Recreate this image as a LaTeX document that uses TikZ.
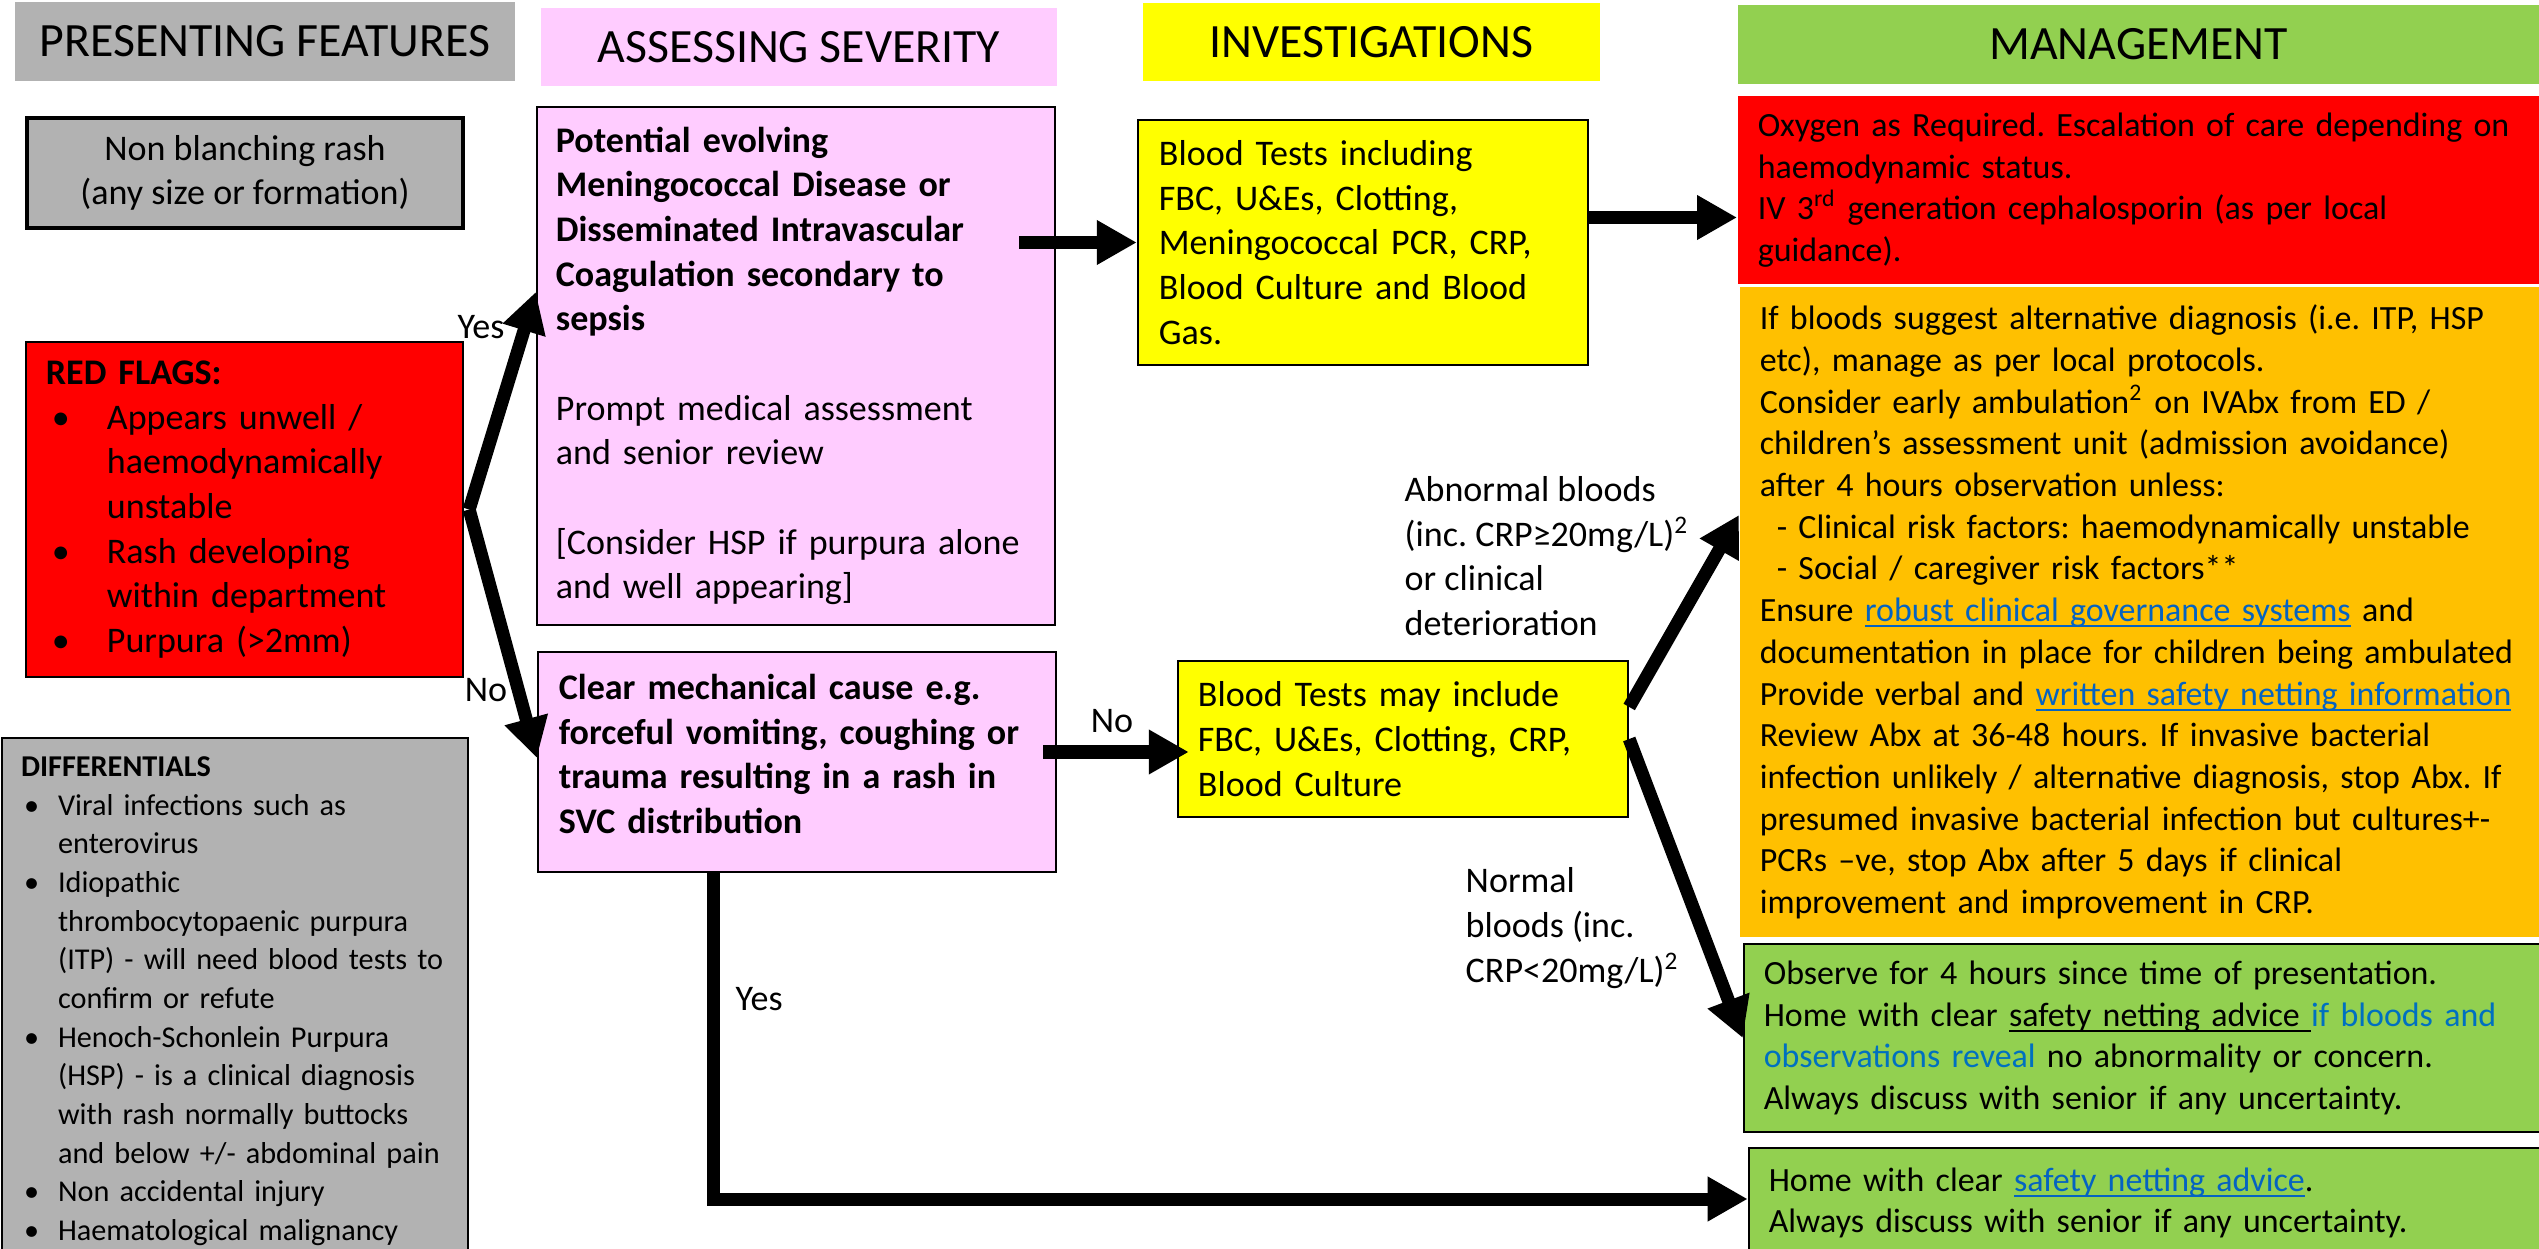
\documentclass[tikz,border=0pt]{standalone}
\usepackage{fontspec}
\setmainfont{Carlito}
\usetikzlibrary{arrows.meta,calc}

\definecolor{hgray}{HTML}{B2B2B2}
\definecolor{pinkbox}{HTML}{FFCCFF}
\definecolor{yelbox}{HTML}{FFFF00}
\definecolor{grnbox}{HTML}{92D050}
\definecolor{orgbox}{HTML}{FFC000}
\definecolor{redbox}{HTML}{FF0000}
\definecolor{linkblue}{HTML}{0563C1}
\definecolor{noteblue}{HTML}{0070C0}

\newcommand{\uln}[1]{\setbox0\hbox{#1}\rlap{\rule[-0.17em]{\wd0}{0.06em}}\box0}
\newcommand{\lnk}[1]{\textcolor{linkblue}{\uln{#1}}}
\newcommand{\rfb}{\hspace*{0.06cm}\makebox[0.55cm][l]{\textbullet}}
\newcommand{\rfi}{\hspace*{0.61cm}}
\newcommand{\dfb}{\hspace*{0.03cm}\makebox[0.34cm][l]{\textbullet}}
\newcommand{\dfi}{\hspace*{0.37cm}}
\frenchspacing

\begin{document}
\begin{tikzpicture}[x=0.01cm, y=-0.01cm,
    hdr/.style={minimum height=0.78cm, inner sep=0pt, font=\fontsize{13.6}{16}\selectfont},
    flowbox/.style={draw=black, line width=0.6pt, align=left, inner ysep=0pt, font=\fontsize{10.25}{12.7}\selectfont},
    mgmt/.style={align=left, inner ysep=0pt, inner xsep=0.2cm, minimum width=8.2cm, text width=7.8cm, font=\fontsize{9.65}{11.85}\selectfont},
    lbl/.style={inner sep=0pt, font=\fontsize{10.25}{12.7}\selectfont},
    bigarrow/.style={line width=0.13cm, -{Triangle[length=0.4cm,width=0.42cm]}}]
    \useasboundingbox (0,0) rectangle (2539,1249);

    % column headers
    \node[hdr, fill=hgray, minimum width=5.0cm] (hdPres) at (265,41.5) {PRESENTING FEATURES};
    \node[hdr, fill=pinkbox, minimum width=5.16cm] (hdSev) at (799,47) {ASSESSING SEVERITY};
    \node[hdr, fill=yelbox, minimum width=4.57cm] (hdInv) at (1371.5,42) {INVESTIGATIONS};
    \node[hdr, fill=grnbox, minimum width=8.01cm] (hdMan) at (2138.5,44.5) {MANAGEMENT};

    % presenting features
    \node[flowbox, fill=hgray, align=center, line width=1pt, minimum width=4.36cm, minimum height=1.10cm] (rash) at (245,173)
        {Non blanching rash\\(any size or formation)};
    \node[flowbox, fill=redbox, minimum width=4.37cm, minimum height=3.35cm, inner xsep=0.2cm, text width=3.97cm] (flags) at (244.5,509.5)
        {\textbf{RED FLAGS:}\\
         \rfb Appears unwell /\\
         \rfi haemodynamically\\
         \rfi unstable\\
         \rfb Rash developing\\
         \rfi within department\\
         \rfb Purpura (>2mm)};
    \node[flowbox, fill=hgray, anchor=north west, minimum width=4.66cm, inner xsep=0.19cm, inner ysep=0.185cm, text width=4.28cm,
          font=\fontsize{8.6}{11}\selectfont] (diffs) at (1,737)
        {\textbf{DIFFERENTIALS}\\
         \dfb Viral infections such as\\
         \dfi enterovirus\\
         \dfb Idiopathic\\
         \dfi thrombocytopaenic purpura\\
         \dfi (ITP) - will need blood tests to\\
         \dfi confirm or refute\\
         \dfb Henoch-Schonlein Purpura\\
         \dfi (HSP) - is a clinical diagnosis\\
         \dfi with rash normally buttocks\\
         \dfi and below +/- abdominal pain\\
         \dfb Non accidental injury\\
         \dfb Haematological malignancy};

    % assessing severity
    \node[flowbox, fill=pinkbox, minimum width=5.18cm, minimum height=5.18cm, inner xsep=0.19cm, text width=4.80cm] (severe) at (796,366)
        {\textbf{Potential evolving}\\
         \textbf{Meningococcal Disease or}\\
         \textbf{Disseminated Intravascular}\\
         \textbf{Coagulation secondary to}\\
         \textbf{sepsis}\\[12.7pt]
         Prompt medical assessment\\
         and senior review\\[12.7pt]
         {[}Consider HSP if purpura alone\\
         and well appearing]};
    \node[flowbox, fill=pinkbox, minimum width=5.18cm, minimum height=2.20cm, inner xsep=0.21cm, text width=4.76cm] (mech) at (797,762)
        {\textbf{Clear mechanical cause e.g.}\\
         \textbf{forceful vomiting, coughing or}\\
         \textbf{trauma resulting in a rash in}\\
         \textbf{SVC distribution}\\[-8pt]\mbox{}};

    % investigations
    \node[flowbox, fill=yelbox, minimum width=4.50cm, minimum height=2.45cm, inner xsep=0.21cm, text width=4.08cm] (bloodsA) at (1363,242.5)
        {Blood Tests including\\FBC, U\&Es, Clotting,\\Meningococcal PCR, CRP,\\Blood Culture and Blood\\Gas.};
    \node[flowbox, fill=yelbox, minimum width=4.50cm, minimum height=1.56cm, inner xsep=0.20cm, text width=4.10cm] (bloodsB) at (1403,739)
        {Blood Tests may include\\FBC, U\&Es, Clotting, CRP,\\Blood Culture};

    % management
    \node[mgmt, fill=redbox, minimum height=1.88cm] (oxygen) at (2148,190)
        {Oxygen as Required. Escalation of care depending on\\
         haemodynamic status.\\
         IV 3\textsuperscript{rd} generation cephalosporin (as per local\\
         guidance).};
    \node[mgmt, fill=orgbox, minimum height=6.50cm] (ambul) at (2150,612)
        {If bloods suggest alternative diagnosis (i.e. ITP, HSP\\
         etc), manage as per local protocols.\\
         Consider early ambulation\textsuperscript{2} on IVAbx from ED /\\
         children’s assessment unit (admission avoidance)\\
         after 4 hours observation unless:\\
         \hspace*{0.17cm}- Clinical risk factors: haemodynamically unstable\\
         \hspace*{0.17cm}- Social / caregiver risk factors**\\
         Ensure \lnk{robust clinical governance systems} and\\
         documentation in place for children being ambulated\\
         Provide verbal and \lnk{written safety netting information}\\
         Review Abx at 36-48 hours. If invasive bacterial\\
         infection unlikely / alternative diagnosis, stop Abx. If\\
         presumed invasive bacterial infection but cultures+-\\
         PCRs –ve, stop Abx after 5 days if clinical\\
         improvement and improvement in CRP.};
    \node[mgmt, fill=grnbox, draw=black, line width=0.6pt, minimum height=1.88cm] (observe) at (2154,1038)
        {Observe for 4 hours since time of presentation.\\
         Home with clear \uln{safety netting advice }\textcolor{noteblue}{if bloods and}\\
         \textcolor{noteblue}{observations reveal} no abnormality or concern.\\
         Always discuss with senior if any uncertainty.};
    \node[mgmt, fill=grnbox, draw=black, line width=0.6pt, minimum height=1.10cm] (home) at (2159,1203)
        {Home with clear \lnk{safety netting advice}.\\
         Always discuss with senior if any uncertainty.};

    % labels
    \node[lbl] (yesSev) at (481,327) {Yes};
    \node[lbl] (noSev) at (486,690) {No};
    \node[lbl] (noMech) at (1112,721) {No};
    \node[lbl, anchor=west] (yesMech) at (735,999) {Yes};
    \node[lbl, anchor=west, align=left] (abnormal) at (1404,556)
        {Abnormal bloods\\(inc. CRP≥20mg/L)\textsuperscript{2}\\or clinical\\deterioration};
    \node[lbl, anchor=west, align=left] (normal) at (1465,928)
        {Normal\\bloods (inc.\\CRP<20mg/L)\textsuperscript{2}};

    % connectors
    \coordinate (split) at ([xshift=0.05cm]flags.east);
    \draw[bigarrow] (split) -- ([yshift=0.74cm]severe.west);
    \draw[bigarrow] (split) -- ([yshift=0.04cm]mech.west);
    \draw[bigarrow] ($(severe.east |- bloodsA.west)+(-37,0)$) -- (bloodsA.west);
    \coordinate (toOxy) at ($(bloodsA.east)+(0,-25)$);
    \draw[bigarrow] (toOxy) -- (toOxy -| oxygen.west);
    \coordinate (toBlood) at ($(mech.east)+(-14,-10)$);
    \draw[bigarrow] (toBlood) -- ($(toBlood -| bloodsB.west)+(12,0)$);
    \draw[bigarrow] ([yshift=0.32cm]bloodsB.east) -- ([yshift=0.97cm]ambul.west);
    \draw[bigarrow] (bloodsB.east) -- (observe.west);
    \draw[bigarrow, line join=miter] ([xshift=-0.83cm]mech.south) |- ([yshift=0.04cm]home.west);
\end{tikzpicture}
\end{document}
